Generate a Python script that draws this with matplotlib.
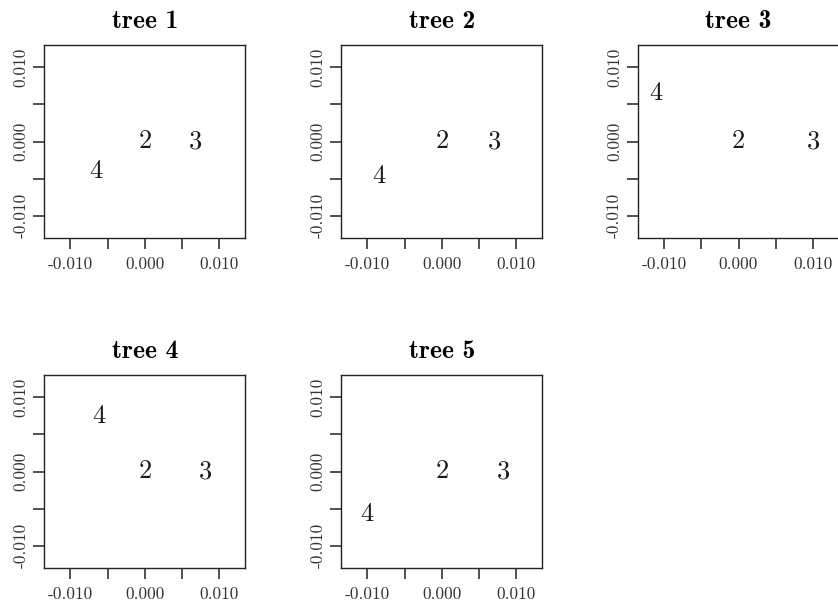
import numpy as np
import matplotlib
matplotlib.use("Agg")
import matplotlib.pyplot as plt

# label positions (x, y) for each tree
titles = ["tree 1", "tree 2", "tree 3", "tree 4", "tree 5"]
labels = ["2", "3", "4"]
x2 = [0.0, 0.0, 0.0, 0.0, 0.0]
y2 = [0.0, 0.0, 0.0, 0.0, 0.0]
x3 = [0.0068, 0.0071, 0.0100, 0.0081, 0.0083]
y3 = [0.0, 0.0, 0.0, 0.0, 0.0]
x4 = [-0.0066, -0.0084, -0.0111, -0.0061, -0.0100]
y4 = [-0.0040, -0.0047, 0.0065, 0.0075, -0.0058]

ticks = [-0.01, -0.005, 0.0, 0.005, 0.01]
ticklabels = ["-0.010", "", "0.000", "", "0.010"]

fig = plt.figure(figsize=(8.38, 6.08), dpi=100)

lefts = [44.3, 341.3, 638.0]
tops = [45.0, 375.0]
w, h = 201.0, 193.0

for i in range(5):
    r, c = divmod(i, 3)
    ax = fig.add_axes([lefts[c] / 838, (608 - tops[r] - h) / 608, w / 838, h / 608])
    xs = [x2[i], x3[i], x4[i]]
    ys = [y2[i], y3[i], y4[i]]
    for lab, x, y in zip(labels, xs, ys):
        ax.text(x, y, lab, family="cmr10", fontsize=19, ha="center", va="center",
                color="#1a1a1a")
    ax.set_xlim(-0.01348, 0.01348)
    ax.set_ylim(-0.0130, 0.0130)
    ax.set_xticks(ticks)
    ax.set_yticks(ticks)
    ax.set_xticklabels(ticklabels, family="cmr10", fontsize=12.5, color="#333333")
    ax.set_yticklabels(ticklabels, family="cmr10", fontsize=12.5, color="#333333",
                       rotation=90, va="center")
    ax.tick_params(direction="out", length=8, width=1.1, color="#222222", pad=5.5)
    ax.tick_params(axis="y", pad=3.5)
    for s in ax.spines.values():
        s.set_linewidth(1.0)
        s.set_color("#222222")
    ax.set_title(titles[i], family="cmb10", fontsize=18.5, pad=12)

fig.savefig("out.png", dpi=100)
